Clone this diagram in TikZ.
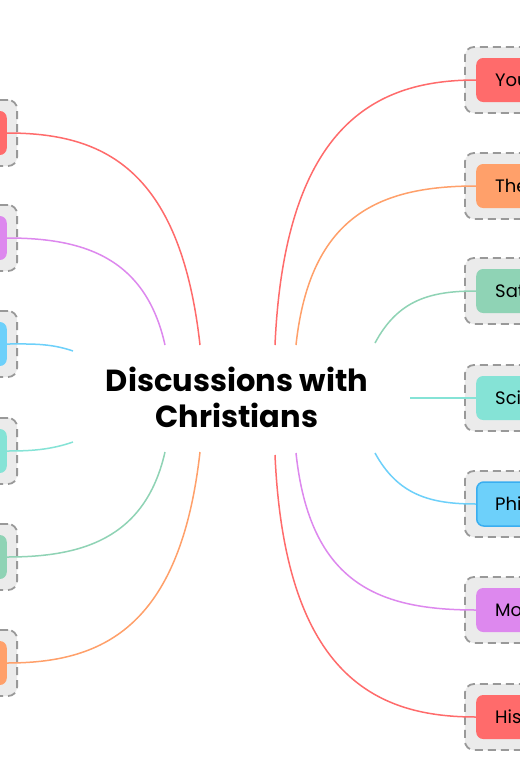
\documentclass[tikz,border=0pt]{standalone}
\usepackage{fontspec}
\setmainfont{Poppins}
\definecolor{cred}{HTML}{FF6B6B}
\definecolor{corange}{HTML}{FFA06A}
\definecolor{cgreen}{HTML}{8FD3B5}
\definecolor{cteal}{HTML}{85E3D6}
\definecolor{cblue}{HTML}{6DD0FA}
\definecolor{cpurple}{HTML}{DD88EE}
\definecolor{outerfill}{HTML}{EBEBEB}
\definecolor{outerline}{HTML}{999999}
\definecolor{selblue}{HTML}{3AAEF0}
\tikzset{
  outerbox/.style={draw=outerline, fill=outerfill, dash pattern=on 8pt off 5pt, line width=1.8pt, rounded corners=9pt, minimum width=110pt, minimum height=66pt, inner sep=0pt},
  innerbox/.style={fill=#1, rounded corners=7pt, minimum width=85pt, minimum height=44pt, inner sep=0pt},
  lbl/.style={font=\fontsize{18}{20}\selectfont, anchor=west, inner sep=0pt},
  conn/.style={draw=#1, line width=1.5pt},
}
\begin{document}
\begin{tikzpicture}[x=1pt,y=-1pt]
\useasboundingbox (0,0) rectangle (520,780);
\clip (0,0) rectangle (520,780);
\fill[white] (0,0) rectangle (520,780);
% centre
\node[font=\bfseries\fontsize{30.5}{36}\selectfont, align=center, inner sep=0pt] (center) at (237,397) {Discussions with\\Christians};
% start coordinates
\coordinate (rs1) at (275,345);
\coordinate (rs2) at (296,345);
\coordinate (rs3) at (375,343);
\coordinate (rs4) at (410,398);
\coordinate (rs5) at (375,453);
\coordinate (rs6) at (296,453);
\coordinate (rs7) at (275,455);
\coordinate (ls1) at (200,345);
\coordinate (ls2) at (165,345);
\coordinate (ls3) at (73,351);
\coordinate (ls4) at (73,442);
\coordinate (ls5) at (165,452);
\coordinate (ls6) at (200,452);
% right outer boxes
\node[outerbox, anchor=west] (ro1) at (464,80) {};
\node[outerbox, anchor=west] (ro2) at (464,186) {};
\node[outerbox, anchor=west] (ro3) at (464,291) {};
\node[outerbox, anchor=west] (ro4) at (464,398) {};
\node[outerbox, anchor=west] (ro5) at (464,504) {};
\node[outerbox, anchor=west] (ro6) at (464,610) {};
\node[outerbox, anchor=west] (ro7) at (464,717) {};
% left outer boxes
\node[outerbox, anchor=east] (lo1) at (18,133) {};
\node[outerbox, anchor=east] (lo2) at (18,238) {};
\node[outerbox, anchor=east] (lo3) at (18,344) {};
\node[outerbox, anchor=east] (lo4) at (18,451) {};
\node[outerbox, anchor=east] (lo5) at (18,557) {};
\node[outerbox, anchor=east] (lo6) at (18,663) {};
% right inner boxes
\node[innerbox=cred, anchor=west] (r1) at (476,80) {};
\node[innerbox=corange, anchor=west] (r2) at (476,186) {};
\node[innerbox=cgreen, anchor=west] (r3) at (476,291) {};
\node[innerbox=cteal, anchor=west] (r4) at (476,398) {};
\node[innerbox=cblue, anchor=west, draw=selblue, line width=1.5pt] (r5) at (476,504) {};
\node[innerbox=cpurple, anchor=west] (r6) at (476,610) {};
\node[innerbox=cred, anchor=west] (r7) at (476,717) {};
% left inner boxes
\node[innerbox=cred, anchor=east] (l1) at (7,133) {};
\node[innerbox=cpurple, anchor=east] (l2) at (7,238) {};
\node[innerbox=cblue, anchor=east] (l3) at (7,344) {};
\node[innerbox=cteal, anchor=east] (l4) at (7,451) {};
\node[innerbox=cgreen, anchor=east] (l5) at (7,557) {};
\node[innerbox=corange, anchor=east] (l6) at (7,663) {};
% labels
\node[lbl] (t1) at (495,80) {You};
\node[lbl] (t2) at (495,186) {The};
\node[lbl] (t3) at (495,291) {Sat};
\node[lbl] (t4) at (495,398) {Sci};
\node[lbl] (t5) at (495,504) {Phi};
\node[lbl] (t6) at (495,610) {Mo};
\node[lbl] (t7) at (495,717) {His};
% right connectors
\draw[conn=cred] (rs1) .. controls (285,120) and (380,80) .. (r1.west);
\draw[conn=corange] (rs2) .. controls (310,215) and (380,186) .. (r2.west);
\draw[conn=cgreen] (rs3) .. controls (398,300) and (430,291) .. (r3.west);
\draw[conn=cteal] (rs4) -- (r4.west);
\draw[conn=cblue] (rs5) .. controls (398,495) and (430,504) .. (r5.west);
\draw[conn=cpurple] (rs6) .. controls (310,585) and (380,610) .. (r6.west);
\draw[conn=cred] (rs7) .. controls (285,680) and (380,717) .. (r7.west);
% left connectors
\draw[conn=cred] (ls1) .. controls (180,165) and (100,133) .. (l1.east);
\draw[conn=cpurple] (ls2) .. controls (145,255) and (80,238) .. (l2.east);
\draw[conn=cblue] (ls3) .. controls (50,343) and (30,344) .. (l3.east);
\draw[conn=cteal] (ls4) .. controls (50,450) and (30,451) .. (l4.east);
\draw[conn=cgreen] (ls5) .. controls (145,540) and (80,557) .. (l5.east);
\draw[conn=corange] (ls6) .. controls (180,630) and (100,663) .. (l6.east);
\end{tikzpicture}
\end{document}
